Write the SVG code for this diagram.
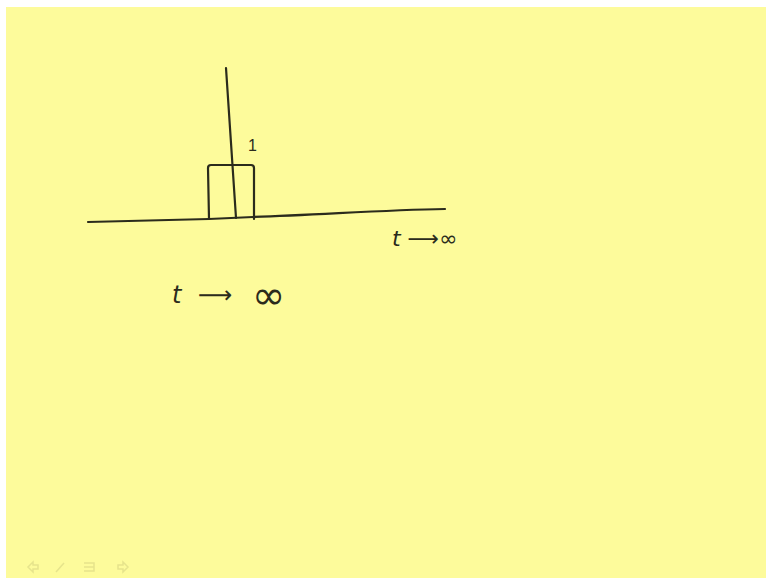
<svg xmlns="http://www.w3.org/2000/svg" width="766" height="578" viewBox="0 0 766 578">
<style>
.ink{fill:none;stroke:#2b2b1c;stroke-width:2.2;stroke-linecap:round;stroke-linejoin:round}
.hand{font-family:"DejaVu Sans","Liberation Sans",sans-serif;fill:#2b2b1c;font-style:italic}
.nav{fill:none;stroke:#e6e48c;stroke-width:1.5}
</style>
<rect x="0" y="0" width="766" height="578" fill="#ffffff"/>
<rect x="6" y="7" width="760" height="571" fill="#fdfb9b"/>
<g id="axis">
<path class="ink" d="M88,222 L209,219 L253,217 C320,215 380,210 445,209"/>
</g>
<g id="pulse">
<path class="ink" d="M209,219 L208,168 Q208,165 211,165 L251,165 Q254,165 254,168 L254,219"/>
</g>
<g id="impulse">
<path class="ink" d="M226,68 L236,218"/>
</g>
<g id="labels">
<text x="248" y="151" font-size="16" font-family="Liberation Sans, sans-serif" fill="#2b2b1c">1</text>
<text class="hand" x="392" y="246" font-size="22">t ⟶∞</text>
<text class="hand" y="303" font-size="24"><tspan x="172">t</tspan><tspan x="198">⟶</tspan><tspan x="252" y="309" font-size="40">∞</tspan></text>
</g>
<g id="nav">
<path class="nav" d="M28,567 l5,-5 v3 h5 v4 h-5 v3 z"/>
<path class="nav" d="M56,572 l8,-9"/>
<path class="nav" d="M84,563 h10 v8 h-10 M84,567 h10"/>
<path class="nav" d="M128,567 l-5,-5 v3 h-5 v4 h5 v3 z"/>
</g>
</svg>
